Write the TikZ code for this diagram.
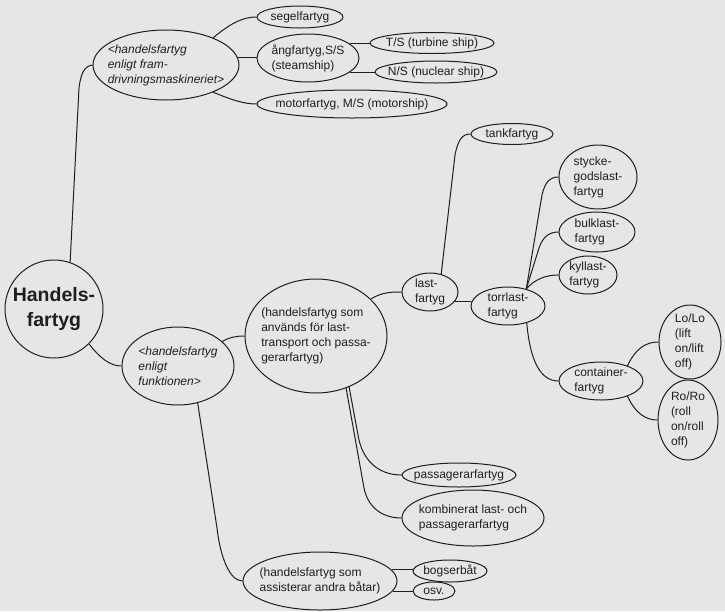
\documentclass[tikz,border=0pt]{standalone}
\usepackage{fontspec}
\setmainfont{Liberation Sans}
\usetikzlibrary{shapes.geometric}
\definecolor{paper}{HTML}{E6E6E6}
\definecolor{ink}{HTML}{1E1E1E}
\begin{document}
\begin{tikzpicture}[x=1pt,y=1pt,
  bub/.style 2 args={ellipse, draw=ink, line width=1pt, minimum width=#1, minimum height=#2, inner sep=0pt},
  circ/.style={circle, draw=ink, line width=1pt, minimum size=#1, inner sep=0pt},
  txt/.style={text=ink, align=left, inner sep=0pt, font=\fontsize{12}{15}\selectfont},
  itxt/.style={txt, font=\fontsize{12}{15}\selectfont\itshape},
  head/.style={txt, align=center, font=\fontsize{19.5}{25}\selectfont\bfseries},
  link/.style={draw=ink, line width=1pt}]

% page
\fill[paper] (0,0) rectangle (725,-611);
\useasboundingbox (0,0) rectangle (725,-611);

% root
\node[circ=98] (hf) at (54,-309) {};
\node[head] (hf-t) at (hf) {Handels-\\fartyg};

% by propulsion
\node[bub={146}{70}] (prop) at (166,-65) {};
\node[itxt] (prop-t) at (prop) {<handelsfartyg\\enligt fram-\\drivningsmaskineriet>};
\node[bub={86}{22}] (segel) at (300,-17) {};
\node[txt] (segel-t) at (segel) {segelfartyg};
\node[bub={102}{48}] (ang) at (308,-58) {};
\node[txt] (ang-t) at (ang) {ångfartyg,S/S\\(steamship)};
\node[bub={124}{21}] (ts) at (432,-43) {};
\node[txt] (ts-t) at (ts) {T/S (turbine ship)};
\node[bub={122}{22}] (ns) at (436,-72) {};
\node[txt] (ns-t) at (ns) {N/S (nuclear ship)};
\node[bub={190}{28}] (motor) at (352,-104) {};
\node[txt] (motor-t) at (motor) {motorfartyg, M/S (motorship)};

% by function
\node[bub={112}{78}] (funk) at (178,-366) {};
\node[itxt] (funk-t) at (funk) {<handelsfartyg\\enligt\\funktionen>};
\node[bub={142}{114}] (used) at (316,-336) {};
\node[txt] (used-t) at (used) {(handelsfartyg som\\används för last-\\transport och passa-\\gerarfartyg)};
\node[bub={56}{38}] (last) at (430,-292) {};
\node[txt] (last-t) at (last) {last-\\fartyg};
\node[bub={82}{21}] (tank) at (512,-134) {};
\node[txt] (tank-t) at (tank) {tankfartyg};
\node[bub={74}{38}] (torr) at (508,-306) {};
\node[txt] (torr-t) at (torr) {torrlast-\\fartyg};
\node[bub={78}{64}] (stycke) at (598,-177) {};
\node[txt] (stycke-t) at (stycke) {stycke-\\godslast-\\fartyg};
\node[bub={76}{40}] (bulk) at (597,-232) {};
\node[txt] (bulk-t) at (bulk) {bulklast-\\fartyg};
\node[bub={58}{38}] (kyll) at (588,-275) {};
\node[txt] (kyll-t) at (kyll) {kyllast-\\fartyg};
\node[bub={84}{38}] (cont) at (601,-381) {};
\node[txt] (cont-t) at (cont) {container-\\fartyg};
\node[bub={62}{74}] (lolo) at (690,-342) {};
\node[txt] (lolo-t) at (lolo) {Lo/Lo\\(lift\\on/lift\\off)};
\node[bub={60}{80}] (roro) at (688,-420) {};
\node[txt] (roro-t) at (roro) {Ro/Ro\\(roll\\on/roll\\off)};
\node[bub={114}{24}] (pass) at (459,-475) {};
\node[txt] (pass-t) at (pass) {passagerarfartyg};
\node[bub={142}{56}] (komb) at (473,-518) {};
\node[txt] (komb-t) at (komb) {kombinerat last- och\\passagerarfartyg};
\node[bub={154}{58}] (assist) at (320,-581) {};
\node[txt] (assist-t) at (assist) {(handelsfartyg som\\assisterar andra båtar)};
\node[bub={74}{22}] (bog) at (450,-571) {};
\node[txt] (bog-t) at (bog) {bogserbåt};
\node[bub={42}{18}] (osv) at (434,-591) {};
\node[txt] (osv-t) at (osv) {osv.};

% connectors
\draw[link] (hf.71) -- (79,-88) .. controls (81,-72) and (85,-66) .. (prop.west);
\draw[link] (prop.30) .. controls (232,-22) and (244,-17) .. (segel.west);
\draw[link] (prop.6) -- (prop.6 -| ang.west);
\draw[link] (prop.-30) .. controls (232,-100) and (244,-104) .. (motor.west);
\draw[link] (ang.19) -- (ang.19 -| ts.west);
\draw[link] (ang.-19) -- (ang.-19 -| ns.west);

\draw[link] (hf.-45) .. controls (100,-358) and (110,-366) .. (funk.west);
\draw[link] (funk.29) .. controls (230,-337) and (237,-336) .. (used.west);
\draw[link] (funk.-62) -- (217,-528) .. controls (220,-555) and (229,-581) .. (assist.west);

\draw[link] (used.34) .. controls (382,-292) and (392,-292) .. (last.west);
\draw[link] (last.58) -- (455,-155) .. controls (458,-140) and (462,-134) .. (tank.west);
\draw[link] (last.-20) -- (last.-20 -| torr.west);
\draw[link] (torr.43) -- (542,-195) .. controls (545,-182) and (550,-177) .. (stycke.west);
\draw[link] (torr.43) -- (539,-248) .. controls (543,-236) and (550,-232) .. (bulk.west);
\draw[link] (torr.43) .. controls (535,-279) and (546,-275) .. (kyll.west);
\draw[link] (torr.-42) .. controls (530,-360) and (540,-381) .. (cont.west);
\draw[link] (cont.30) .. controls (636,-348) and (646,-342) .. (lolo.west);
\draw[link] (cont.-30) .. controls (636,-414) and (646,-420) .. (roro.west);

\draw[link] (used.-57) -- (358,-435) .. controls (362,-460) and (378,-475) .. (pass.west);
\draw[link] (used.-60) -- (364,-488) .. controls (368,-508) and (383,-518) .. (komb.west);
\draw[link] (assist.9) -- (assist.9 -| bog.west);
\draw[link] (assist.-8) -- (assist.-8 -| osv.west);
\end{tikzpicture}
\end{document}
